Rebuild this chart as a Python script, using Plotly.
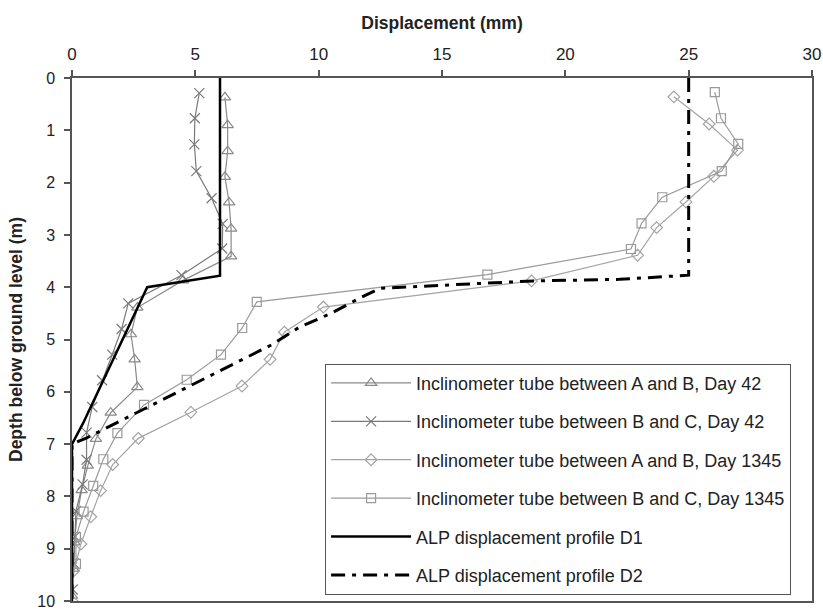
import plotly.graph_objects as go

# ---- data ----
ab42_x = [6.2, 6.31, 6.31, 6.2, 6.37, 6.45, 6.45, 4.5, 2.65, 2.39, 2.54, 2.65, 1.57, 0.97, 0.64, 0.39, 0.2, 0.1, 0.05, 0.0]
ab42_d = [0.37, 0.90, 1.40, 1.89, 2.38, 2.88, 3.41, 3.87, 4.39, 4.90, 5.38, 5.91, 6.40, 6.90, 7.41, 7.88, 8.38, 8.88, 9.38, 9.90]

bc42_x = [5.16, 4.98, 4.96, 5.04, 5.66, 6.11, 6.09, 4.44, 2.28, 2.01, 1.63, 1.22, 0.82, 0.59, 0.59, 0.43, 0.16, 0.12, 0.08, 0.03]
bc42_d = [0.29, 0.77, 1.27, 1.78, 2.30, 2.79, 3.26, 3.77, 4.31, 4.80, 5.29, 5.78, 6.29, 6.78, 7.30, 7.77, 8.28, 8.77, 9.28, 9.78]

ab1345_x = [24.4, 25.83, 26.98, 26.02, 24.89, 23.70, 22.93, 18.63, 10.19, 8.61, 8.03, 6.89, 4.82, 2.69, 1.65, 1.16, 0.76, 0.36, 0.08, 0.0]
ab1345_d = [0.36, 0.88, 1.38, 1.88, 2.37, 2.86, 3.39, 3.88, 4.38, 4.86, 5.38, 5.89, 6.39, 6.89, 7.39, 7.89, 8.39, 8.91, 9.42, 10.0]

bc1345_x = [26.06, 26.31, 27.01, 26.34, 23.93, 23.09, 22.66, 16.84, 7.49, 6.90, 6.04, 4.65, 2.92, 1.84, 1.27, 0.86, 0.47, 0.16, 0.16]
bc1345_d = [0.27, 0.77, 1.26, 1.78, 2.28, 2.78, 3.27, 3.76, 4.28, 4.78, 5.29, 5.77, 6.25, 6.79, 7.29, 7.80, 8.29, 8.78, 9.29]

d1_x = [6.0, 6.0, 3.05, 0.45, 0.0, 0.0]
d1_d = [0.0, 3.78, 4.0, 6.6, 7.0, 10.0]

d2_x = [25.0, 25.0, 22.2, 18.7, 12.5, 11.7, 10.5, 9.2, 8.1, 0.6, 0.0, 0.0]
d2_d = [0.0, 3.77, 3.85, 3.88, 4.02, 4.2, 4.5, 4.77, 5.1, 6.88, 7.0, 10.0]

x_ticks = [0, 5, 10, 15, 20, 25, 30]
y_ticks = [0, 1, 2, 3, 4, 5, 6, 7, 8, 9, 10]

names = [
    "Inclinometer tube between A and B, Day 42",
    "Inclinometer tube between B and C, Day 42",
    "Inclinometer tube between A and B, Day 1345",
    "Inclinometer tube between B and C, Day 1345",
    "ALP displacement profile D1",
    "ALP displacement profile D2",
]

FONT = "Arial, Liberation Sans, sans-serif"

fig = go.Figure()

def incl(x, d, name, symbol, color, size, grp):
    fig.add_trace(go.Scatter(
        x=x, y=d, name=name, mode="lines+markers", legendgroup=grp,
        line=dict(color=color, width=1.2),
        marker=dict(symbol=symbol, size=size, color=color,
                    line=dict(color=color, width=1.2)),
    ))

incl(ab42_x, ab42_d, names[0], "triangle-up-open", "#8a8a8a", 10, "g1")
incl(bc42_x, bc42_d, names[1], "x-thin-open", "#7a7a7a", 10, "g2")
incl(ab1345_x, ab1345_d, names[2], "diamond-open", "#a4a4a4", 9, "g3")
incl(bc1345_x, bc1345_d, names[3], "square-open", "#9a9a9a", 9, "g4")

fig.add_trace(go.Scatter(x=d1_x, y=d1_d, name=names[4], mode="lines", legendgroup="g5",
                         line=dict(color="black", width=2.5)))
fig.add_trace(go.Scatter(x=d2_x, y=d2_d, name=names[5], mode="lines", legendgroup="g6",
                         line=dict(color="black", width=3, dash="14px,7px,4px,7px")))

fig.update_layout(
    width=823, height=611,
    margin=dict(l=72, r=11, t=78, b=10, autoexpand=False),
    paper_bgcolor="white", plot_bgcolor="white",
    font=dict(family=FONT, size=15, color="#222"),
    showlegend=True,
    legend=dict(
        x=0.342, y=0.012, xanchor="left", yanchor="bottom",
        bgcolor="white", bordercolor="#555", borderwidth=1,
        font=dict(family=FONT, size=18, color="#222"),
        tracegroupgap=12, itemwidth=80,
    ),
    xaxis=dict(
        side="top", range=[0, 30], tickvals=x_ticks,
        ticks="outside", ticklen=6, tickcolor="#555", tickwidth=1.5,
        showline=True, linecolor="#555", linewidth=1.5, mirror=True,
        showgrid=False, zeroline=False, ticklabelstandoff=3,
        ticklabeloverflow="allow", automargin=False,
        tickfont=dict(family=FONT, size=17, color="#222"),
        title=dict(text="<b>Displacement (mm)</b>", font=dict(family=FONT, size=17.5, color="#222"), standoff=11),
    ),
    yaxis=dict(
        range=[10, 0], tickvals=y_ticks,
        ticks="outside", ticklen=6, tickcolor="#555", tickwidth=1.5,
        showline=True, linecolor="#555", linewidth=1.5, mirror=True,
        showgrid=False, zeroline=False, ticklabelstandoff=6,
        ticklabeloverflow="allow", automargin=False,
        tickfont=dict(family=FONT, size=16, color="#222"),
        title=dict(text="<b>Depth below ground level (m)</b>", font=dict(family=FONT, size=17.5, color="#222"), standoff=10),
    ),
)

fig.write_html("out.html")
